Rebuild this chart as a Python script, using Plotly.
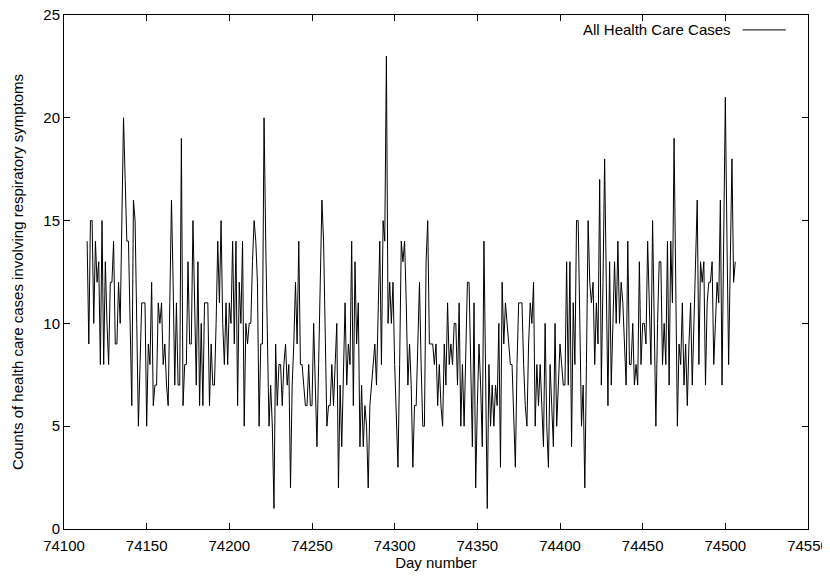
import plotly.graph_objects as go

start_day = 74114
counts = [
    # 74114-74136
    14, 9, 15, 15, 10, 14, 12, 13, 8, 15, 8, 13, 10, 8, 12, 12, 14, 9, 9, 12, 10, 15, 20,
    # 74137-74151
    17, 14, 14, 10, 6, 16, 15, 10, 5, 8, 11, 11, 11, 5, 9,
    # 74152-74190
    8, 12, 6, 7, 7, 11, 10, 11, 8, 9, 7, 6, 11, 16, 12, 7, 11, 7, 7, 19,
    6, 8, 8, 13, 9, 9, 15, 11, 7, 13, 6, 10, 6, 11, 11, 11, 6, 9, 7,
    # 74191-74229
    7, 10, 14, 11, 15, 10, 8, 11, 8, 11, 10, 14, 9, 14, 6, 12, 10, 14, 5, 10,
    9, 10, 10, 13, 15, 14, 12, 5, 9, 9, 20, 14, 9, 5, 7, 5, 1, 9, 6,
    # 74230-74268
    8, 8, 6, 8, 9, 7, 8, 2, 7, 9, 12, 9, 14, 8, 8, 7, 6, 6, 8, 6,
    6, 10, 7, 4, 8, 12, 16, 14, 9, 5, 6, 6, 8, 6, 8, 10, 2, 7, 4,
    # 74269-74306
    8, 11, 7, 9, 8, 14, 6, 13, 9, 11, 4, 7, 4, 6, 5, 2, 6, 7, 8, 9,
    7, 10, 14, 8, 15, 14, 23, 10, 12, 10, 12, 8, 5, 3, 8, 14, 13, 14,
    # 74307-74344
    11, 7, 9, 7, 3, 6, 6, 9, 12, 8, 5, 5, 13, 15, 9, 9, 9, 8, 9, 6,
    8, 6, 5, 9, 7, 11, 8, 9, 8, 10, 10, 7, 11, 5, 8, 5, 8, 12,
    # 74345-74384
    12, 8, 4, 11, 2, 6, 9, 7, 4, 14, 8, 1, 8, 5, 7, 5, 7, 6, 10, 3,
    12, 9, 11, 10, 9, 8, 8, 5, 3, 8, 11, 11, 11, 8, 6, 5, 9, 11, 10, 12,
    # 74385-74421
    5, 8, 6, 8, 6, 4, 10, 5, 3, 8, 6, 4, 10, 5, 7, 9, 8, 7, 7, 13,
    7, 13, 4, 11, 8, 15, 15, 10, 5, 7, 2, 8, 15, 12, 11, 12, 8,
    # 74422-74461
    11, 9, 17, 7, 12, 18, 12, 6, 13, 7, 10, 13, 10, 14, 10, 12, 11, 9, 7, 14,
    8, 8, 10, 7, 8, 7, 13, 8, 10, 10, 9, 14, 11, 8, 15, 10, 5, 10, 13, 13,
    # 74462-74506
    8, 10, 8, 14, 7, 14, 11, 19, 11, 5, 9, 8, 11, 7, 9, 6, 9, 11, 7, 10,
    12, 16, 8, 13, 12, 13, 7, 11, 12, 12, 13, 8, 10, 12, 11, 16, 7, 14, 21, 14,
    8, 13, 18, 12, 13,
]
days = list(range(start_day, start_day + len(counts)))

x_ticks = [74100, 74150, 74200, 74250, 74300, 74350, 74400, 74450, 74500, 74550]
y_ticks = [0, 5, 10, 15, 20, 25]
series_name = "All Health Care Cases"

FONT = "Liberation Sans, Arial, sans-serif"
FS = 15

fig = go.Figure()
fig.add_trace(go.Scatter(
    x=days, y=counts, mode="lines", name=series_name,
    line=dict(color="black", width=1), showlegend=False,
))

axis_common = dict(
    showgrid=False, zeroline=False, showline=True, linecolor="black", linewidth=1,
    mirror="allticks", ticks="inside", ticklen=6, tickcolor="black", tickwidth=1,
    tickfont=dict(family=FONT, size=FS, color="black"),
    ticklabeloverflow="allow", automargin=False,
)

# the page body has an 8px default margin; size the figure so it reaches the window edges
fig.update_layout(
    template="none",
    width=822, height=563,
    margin=dict(l=56, r=22, t=7, b=42),
    paper_bgcolor="white", plot_bgcolor="white",
    font=dict(family=FONT, size=FS, color="black"),
    xaxis=dict(range=[74100, 74550], tickvals=x_ticks, ticktext=[str(v) for v in x_ticks],
               ticklabelstandoff=3,
               title=dict(text="Day number", standoff=2, font=dict(family=FONT, size=FS)),
               **axis_common),
    yaxis=dict(range=[0, 25], tickvals=y_ticks, ticktext=[str(v) for v in y_ticks],
               title=dict(text="Counts of health care cases involving respiratory symptoms",
                          standoff=16, font=dict(family=FONT, size=FS)),
               **axis_common),
)

# gnuplot-style key: text followed by a line sample, top right
fig.add_annotation(x=0.899, y=0.971, xref="paper", yref="paper", text=series_name,
                   showarrow=False, xanchor="right", yanchor="middle",
                   font=dict(family=FONT, size=FS, color="black"))
fig.add_shape(type="line", xref="paper", yref="paper", x0=0.912, x1=0.970, y0=0.971, y1=0.971,
              line=dict(color="black", width=1))

fig.write_html("out.html")
